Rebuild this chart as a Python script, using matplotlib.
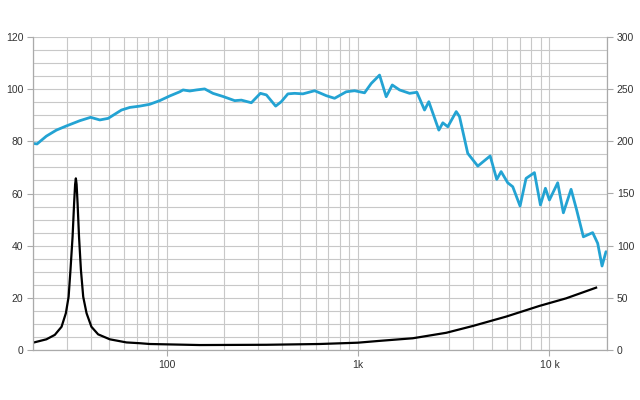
import numpy as np
import matplotlib
matplotlib.use('Agg')
import matplotlib.pyplot as plt
from matplotlib.ticker import FixedLocator, NullFormatter

plt.rcParams['font.family'] = ['Liberation Sans', 'DejaVu Sans']

# frequency response (blue)
spl_f = [20.0, 21.0, 23.5, 26.5, 29.9, 35.1, 40.0, 44.7, 49.4, 58.0, 64.1, 72.3,
         81.5, 91.9, 103.7, 117, 121.7, 131.9, 142.9, 157.8, 174.4, 196.8, 226.6,
         245.5, 276.8, 308.6, 331.7, 370.9, 397, 429.7, 465.9, 514.8, 592.8, 629.5,
         682.3, 753.6, 867.4, 958.6, 1081, 1172, 1295, 1403, 1509, 1648, 1859, 2030,
         2225, 2343, 2643, 2773, 2944, 3258, 3389, 3743, 4224, 4902, 5306, 5593,
         6058, 6433, 7025, 7551, 8350, 8977, 9531, 10000, 11050, 11830, 12980,
         13880, 15050, 16830, 17880, 18840, 19760]
spl_db = [79.2, 79.0, 82.0, 84.3, 85.9, 87.9, 89.2, 88.2, 88.8, 92.0, 93.0, 93.5,
          94.2, 95.6, 97.4, 99.0, 99.7, 99.3, 99.7, 100.1, 98.4, 97.2, 95.6,
          95.8, 94.8, 98.4, 97.8, 93.5, 95.2, 98.2, 98.4, 98.2, 99.4, 98.6,
          97.5, 96.5, 99.0, 99.4, 98.6, 102.2, 105.4, 97.1, 101.6, 99.7, 98.4, 98.8,
          92.0, 95.2, 84.3, 87.1, 85.6, 91.4, 89.5, 75.4, 70.5, 74.4, 65.4, 68.4,
          64.1, 62.6, 55.2, 65.8, 68.0, 55.6, 62.0, 57.5, 64.1, 52.6, 61.6,
          53.7, 43.4, 45.0, 40.9, 32.2, 37.7]

# impedance (black)
imp_f = [20.0, 23.5, 26.0, 28.2, 29.7, 30.7, 31.4, 32.2, 32.8, 33.2, 33.5, 33.8,
         34.2, 34.8, 35.6, 36.6, 38.1, 40.4, 43.8, 50.4, 61.6, 72.3, 81.5, 148.7,
         331.7, 629.5, 997, 1295, 1932, 2890, 3975, 5939, 8870, 12220, 17540]
imp_v = [2.8, 4.1, 5.8, 8.9, 14.1, 20.4, 30.7, 43.4, 56.2, 63.5, 65.8, 63.5,
         56.2, 43.4, 30.7, 20.4, 14.1, 8.9, 6.0, 4.1, 2.9, 2.6, 2.3, 1.9,
         2.0, 2.3, 2.8, 3.5, 4.5, 6.6, 9.2, 12.8, 16.9, 19.8, 23.9]

x_ticks = [100, 1000, 10000]
x_labels = ['100', '1k', '10 k']
left_ticks = [0, 20, 40, 60, 80, 100, 120]
right_ticks = [0, 50, 100, 150, 200, 250, 300]

grid_c = '#c8c8c8'
fig = plt.figure(figsize=(6.4, 4.0), dpi=100)
ax = fig.add_axes([33/640, 50/400, 574/640, 313/400])

ax.set_xscale('log')
ax.set_xlim(20, 20000)
ax.set_ylim(0, 120)

minor = []
for dec in [10, 100, 1000, 10000]:
    for m in range(2, 10):
        v = dec * m
        if 20 <= v <= 20000:
            minor.append(v)
ax.xaxis.set_major_locator(FixedLocator(x_ticks))
ax.xaxis.set_minor_locator(FixedLocator(minor))
ax.set_xticklabels(x_labels)
ax.xaxis.set_minor_formatter(NullFormatter())
ax.set_yticks(left_ticks)
ax.yaxis.set_minor_locator(FixedLocator(np.arange(0, 121, 5)))

ax.grid(True, which='both', color=grid_c, linewidth=0.8)
ax.set_axisbelow(True)
for s in ax.spines.values():
    s.set_color('#aaaaaa')
    s.set_linewidth(0.9)
ax.spines['top'].set_visible(False)

ax.tick_params(which='major', length=4, color='#aaaaaa', labelsize=7.5,
               labelcolor='#333333', pad=3)
ax.tick_params(which='minor', length=0)

ax.plot(spl_f, spl_db, color='#23a3d3', linewidth=2.0, solid_joinstyle='round',
        solid_capstyle='round')
ax.plot(imp_f, imp_v, color='black', linewidth=1.6, solid_joinstyle='round')

ax2 = ax.twinx()
ax2.set_ylim(0, 300)
ax2.set_yticks(right_ticks)
ax2.tick_params(length=4, color='#aaaaaa', labelsize=7.5, labelcolor='#333333', pad=3)
for s in ax2.spines.values():
    s.set_visible(False)

fig.savefig('out.png', dpi=100)
